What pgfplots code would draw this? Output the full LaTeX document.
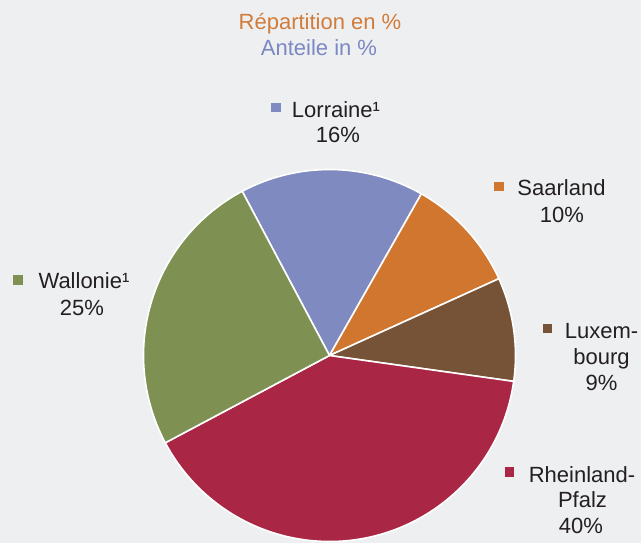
\documentclass[border=0pt]{standalone}
\usepackage{pgfplots}
\usepackage{pgfplotstable}
\pgfplotsset{compat=1.18}
\usepackage{fontspec}
\setmainfont{Liberation Sans}

\definecolor{bg}{RGB}{238,239,241}
\definecolor{txt}{RGB}{35,31,32}
\definecolor{titleorange}{RGB}{210,124,58}
\definecolor{titleblue}{RGB}{124,136,193}
\definecolor{colLorraine}{RGB}{127,138,192}
\definecolor{colSaarland}{RGB}{208,118,47}
\definecolor{colLuxembourg}{RGB}{118,82,54}
\definecolor{colRheinland}{RGB}{170,38,69}
\definecolor{colWallonie}{RGB}{126,145,82}

% shares in %, clockwise from the Lorraine slice
\pgfplotstableread{
name        value
Lorraine    16
Saarland    10
Luxembourg  9
Rheinland   40
Wallonie    25
}\piedata

\tikzset{
  lbl/.style={anchor=base, text=txt, inner sep=0pt, font=\fontsize{22}{26}\selectfont},
  sq/.style={minimum size=9.5pt, inner sep=0pt, draw=none},
}

\begin{document}
\begin{tikzpicture}
\begin{axis}[
  scale only axis, width=641pt, height=543pt,
  xmin=0, xmax=641, ymin=0, ymax=543, y dir=reverse,
  hide axis, clip=false,
]
\fill[bg] (axis cs:0,0) rectangle (axis cs:641,543);

% slices, clockwise from a start angle of 118 degrees
\pgfplotstablegetrowsof{\piedata}\pgfmathtruncatemacro\lastrow{\pgfplotsretval-1}
\gdef\cumangle{118}
\pgfplotsforeachungrouped \i in {0,...,\lastrow}{%
  \pgfplotstablegetelem{\i}{value}\of\piedata\let\v\pgfplotsretval
  \pgfplotstablegetelem{\i}{name}\of\piedata\let\n\pgfplotsretval
  \pgfmathsetmacro\endangle{\cumangle-3.6*\v}%
  \edef\temp{\noexpand\fill[fill=col\n, draw=white, line width=1.6pt, line join=round]
    (axis cs:329.5,355.5) -- ++(\cumangle:186pt)
    arc[start angle=\cumangle, end angle=\endangle, radius=186pt] -- cycle;}%
  \temp
  \global\let\cumangle\endangle
}

% title
\node[lbl, text=titleorange] at (axis cs:320,29) {Répartition en \%};
\node[lbl, text=titleblue] at (axis cs:319,55) {Anteile in \%};

% labels
\node[sq, fill=colLorraine] at (axis cs:276,107.5) {};
\node[lbl] at (axis cs:336,117) {Lorraine¹};
\node[lbl] at (axis cs:338,142) {16\%};

\node[sq, fill=colSaarland] at (axis cs:499,186.5) {};
\node[lbl] at (axis cs:561.5,195) {Saarland};
\node[lbl] at (axis cs:562,222.5) {10\%};

\node[sq, fill=colLuxembourg] at (axis cs:547.5,328.5) {};
\node[lbl] at (axis cs:601.5,338) {Luxem-};
\node[lbl] at (axis cs:601.5,364) {bourg};
\node[lbl] at (axis cs:601.5,390) {9\%};

\node[sq, fill=colRheinland] at (axis cs:509.5,472) {};
\node[lbl] at (axis cs:582,482) {Rheinland-};
\node[lbl] at (axis cs:582.5,507) {Pfalz};
\node[lbl] at (axis cs:581,533) {40\%};

\node[sq, fill=colWallonie] at (axis cs:18,280) {};
\node[lbl] at (axis cs:84,288) {Wallonie¹};
\node[lbl] at (axis cs:82,315) {25\%};
\end{axis}
\pgfresetboundingbox
\path (0,0) rectangle (641pt,543pt);
\end{tikzpicture}
\end{document}
